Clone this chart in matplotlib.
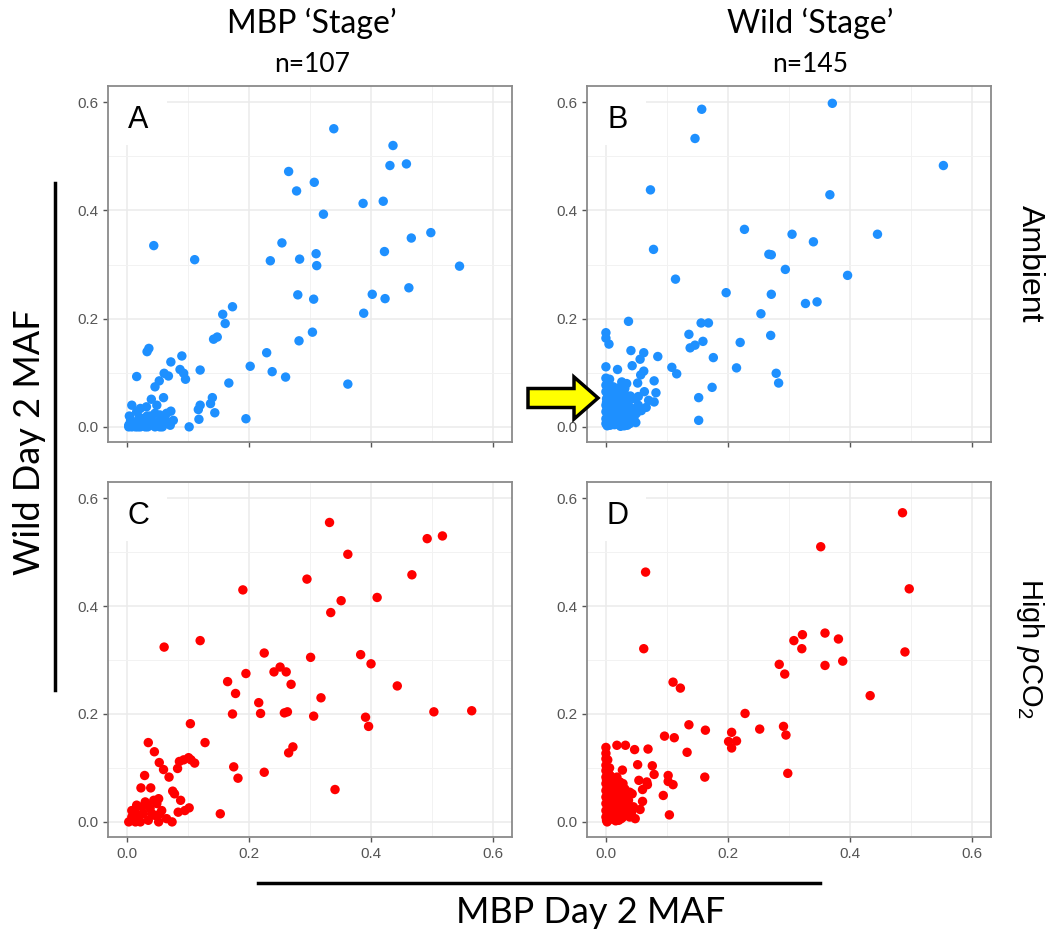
import matplotlib
matplotlib.use("Agg")
import matplotlib.pyplot as plt
from matplotlib.patches import Rectangle, FancyArrow
from matplotlib.lines import Line2D

plt.rcParams['mathtext.fontset'] = 'custom'
plt.rcParams['mathtext.rm'] = 'Liberation Sans'
plt.rcParams['mathtext.it'] = 'Liberation Sans:italic'

# panel A: MBP stage, ambient
a_x = [0.339, 0.436, 0.431, 0.458, 0.265, 0.278, 0.307, 0.387, 0.420, 0.322,
       0.498, 0.466, 0.254, 0.044, 0.111, 0.235, 0.283, 0.310, 0.311, 0.422,
       0.545, 0.280, 0.306, 0.402, 0.423, 0.462, 0.388, 0.173, 0.157, 0.161,
       0.142, 0.148, 0.304, 0.282, 0.229, 0.202, 0.238, 0.260, 0.362, 0.167,
       0.195, 0.120, 0.102, 0.118, 0.144, 0.140, 0.137, 0.120, 0.117, 0.090,
       0.072, 0.087, 0.093, 0.096, 0.061, 0.068, 0.053, 0.046, 0.060, 0.036,
       0.033, 0.016, 0.040, 0.008, 0.022, 0.032, 0.049, 0.072, 0.065, 0.076,
       0.054, 0.033, 0.060, 0.071,
       0.005, 0.008, 0.014, 0.022, 0.030, 0.038, 0.046, 0.054, 0.011, 0.019,
       0.035, 0.027, 0.052, 0.003, 0.044, 0.063,
       0.003, 0.012, 0.018, 0.026, 0.034, 0.042, 0.050, 0.058, 0.066, 0.006,
       0.020, 0.038, 0.046, 0.028, 0.062, 0.016, 0.004]
a_y = [0.551, 0.520, 0.483, 0.486, 0.472, 0.436, 0.452, 0.413, 0.417, 0.393,
       0.359, 0.349, 0.340, 0.335, 0.309, 0.307, 0.310, 0.320, 0.298, 0.324,
       0.297, 0.244, 0.236, 0.245, 0.237, 0.257, 0.210, 0.222, 0.208, 0.191,
       0.162, 0.166, 0.175, 0.159, 0.137, 0.112, 0.102, 0.092, 0.079, 0.081,
       0.015, 0.105, 0.000, 0.014, 0.026, 0.054, 0.043, 0.040, 0.032, 0.131,
       0.120, 0.106, 0.099, 0.088, 0.099, 0.094, 0.085, 0.074, 0.054, 0.145,
       0.139, 0.093, 0.051, 0.040, 0.034, 0.037, 0.040, 0.029, 0.025, 0.012,
       0.022, 0.020, 0.012, 0.003,
       0.006, 0.000, 0.000, 0.000, 0.000, 0.003, 0.000, 0.000, 0.009, 0.006,
       0.009, 0.015, 0.009, 0.003, 0.006, 0.006,
       0.000, 0.003, 0.000, 0.004, 0.000, 0.010, 0.004, 0.000, 0.009, 0.012,
       0.018, 0.020, 0.025, 0.010, 0.018, 0.028, 0.020]

# panel B: wild stage, ambient
b_x = [0.371, 0.157, 0.146, 0.553, 0.073, 0.367, 0.227, 0.305, 0.445, 0.340,
       0.078, 0.267, 0.271, 0.294, 0.396, 0.114, 0.197, 0.271, 0.327, 0.346,
       0.254, 0.037, 0.156, 0.168, 0.000, 0.000, 0.005, 0.136, 0.270, 0.159,
       0.220, 0.146, 0.138, 0.041, 0.062, 0.085, 0.176, 0.056, 0.043, 0.000,
       0.019, 0.108, 0.214, 0.116, 0.279, 0.283, 0.062, 0.057, 0.000, 0.079,
       0.026, 0.034, 0.052, 0.000, 0.174, 0.031, 0.063, 0.082, 0.027, 0.053,
       0.152, 0.070, 0.079, 0.152,
       0.000, 0.001, 0.000, 0.000, 0.000, 0.000, 0.007, 0.009, 0.012, 0.018,
       0.015, 0.023, 0.028, 0.034, 0.039, 0.037, 0.048, 0.050, 0.045, 0.007,
       0.023, 0.034, 0.018, 0.004, 0.009, 0.028, 0.053, 0.020, 0.012, 0.004,
       0.002, 0.005, 0.010, 0.014, 0.017, 0.021, 0.025, 0.030, 0.033, 0.040,
       0.044, 0.049, 0.002, 0.006, 0.011, 0.016, 0.022, 0.027, 0.031, 0.036,
       0.041, 0.046, 0.003, 0.008, 0.013, 0.019, 0.024, 0.029, 0.035, 0.042,
       0.001, 0.004, 0.008, 0.012, 0.016, 0.020, 0.025, 0.030, 0.035, 0.040,
       0.002, 0.006, 0.010, 0.015, 0.021, 0.026, 0.031, 0.037, 0.044, 0.058,
       0.066]
b_y = [0.598, 0.587, 0.533, 0.483, 0.438, 0.429, 0.365, 0.356, 0.356, 0.342,
       0.328, 0.319, 0.318, 0.291, 0.280, 0.273, 0.248, 0.245, 0.228, 0.231,
       0.209, 0.195, 0.192, 0.192, 0.174, 0.164, 0.153, 0.171, 0.169, 0.158,
       0.156, 0.151, 0.146, 0.141, 0.137, 0.130, 0.128, 0.125, 0.113, 0.111,
       0.106, 0.110, 0.109, 0.098, 0.099, 0.081, 0.103, 0.096, 0.090, 0.085,
       0.083, 0.080, 0.081, 0.077, 0.073, 0.071, 0.065, 0.063, 0.059, 0.056,
       0.054, 0.049, 0.046, 0.012,
       0.065, 0.052, 0.040, 0.028, 0.015, 0.006, 0.059, 0.046, 0.034, 0.025,
       0.009, 0.043, 0.034, 0.025, 0.006, 0.040, 0.034, 0.025, 0.015, 0.003,
       0.012, 0.015, 0.052, 0.019, 0.025, 0.006, 0.040, 0.065, 0.074, 0.083,
       0.002, 0.010, 0.018, 0.004, 0.030, 0.012, 0.020, 0.002, 0.036, 0.014,
       0.022, 0.008, 0.035, 0.028, 0.044, 0.038, 0.050, 0.031, 0.047, 0.055,
       0.028, 0.018, 0.058, 0.070, 0.062, 0.005, 0.001, 0.052, 0.010, 0.024,
       0.045, 0.032, 0.021, 0.061, 0.014, 0.027, 0.066, 0.038, 0.003, 0.057,
       0.078, 0.088, 0.048, 0.068, 0.072, 0.016, 0.060, 0.008, 0.052, 0.030,
       0.036]

# panel C: MBP stage, high pCO2
c_x = [0.332, 0.517, 0.492, 0.362, 0.467, 0.295, 0.190, 0.410, 0.351, 0.334,
       0.120, 0.061, 0.225, 0.301, 0.383, 0.400, 0.251, 0.241, 0.261, 0.195,
       0.165, 0.269, 0.443, 0.178, 0.318, 0.216, 0.173, 0.219, 0.258, 0.263,
       0.306, 0.391, 0.396, 0.503, 0.565, 0.104, 0.128, 0.272, 0.265, 0.035,
       0.045, 0.053, 0.060, 0.069, 0.175, 0.182, 0.225, 0.341, 0.153, 0.083,
       0.086, 0.093, 0.101, 0.105, 0.111, 0.029, 0.023, 0.039, 0.075, 0.078,
       0.088, 0.102, 0.095, 0.084, 0.074, 0.065, 0.052, 0.057,
       0.003, 0.008, 0.014, 0.016, 0.022, 0.027, 0.030, 0.035, 0.038, 0.044,
       0.049, 0.046, 0.025, 0.033, 0.041, 0.014, 0.019, 0.008, 0.052, 0.054]
c_y = [0.555, 0.530, 0.525, 0.496, 0.458, 0.450, 0.430, 0.416, 0.410, 0.388,
       0.336, 0.324, 0.313, 0.305, 0.310, 0.293, 0.287, 0.278, 0.278, 0.275,
       0.260, 0.255, 0.252, 0.238, 0.230, 0.221, 0.200, 0.201, 0.202, 0.204,
       0.196, 0.194, 0.177, 0.204, 0.206, 0.182, 0.147, 0.139, 0.128, 0.147,
       0.130, 0.110, 0.097, 0.083, 0.102, 0.081, 0.092, 0.060, 0.015, 0.099,
       0.112, 0.115, 0.119, 0.115, 0.109, 0.086, 0.063, 0.063, 0.057, 0.052,
       0.040, 0.026, 0.021, 0.018, 0.000, 0.006, 0.000, 0.021,
       0.000, 0.009, 0.018, 0.031, 0.000, 0.015, 0.037, 0.003, 0.025, 0.040,
       0.034, 0.012, 0.028, 0.031, 0.015, 0.000, 0.009, 0.021, 0.043, 0.015]

# panel D: wild stage, high pCO2
d_x = [0.486, 0.352, 0.065, 0.497, 0.359, 0.322, 0.308, 0.381, 0.321, 0.062,
       0.490, 0.388, 0.284, 0.359, 0.293, 0.110, 0.122, 0.433, 0.228, 0.136,
       0.163, 0.252, 0.291, 0.295, 0.206, 0.201, 0.214, 0.206, 0.096, 0.112,
       0.133, 0.298, 0.162, 0.102, 0.110, 0.102, 0.094, 0.104, 0.018, 0.032,
       0.047, 0.069, 0.000, 0.000, 0.000, 0.052, 0.076, 0.027, 0.079, 0.054,
       0.067, 0.060, 0.068, 0.043, 0.060, 0.056, 0.048,
       0.000, 0.000, 0.000, 0.000, 0.000, 0.000, 0.000, 0.000, 0.002, 0.007,
       0.009, 0.012, 0.015, 0.018, 0.023, 0.020, 0.026, 0.028, 0.023, 0.034,
       0.037, 0.039, 0.031, 0.018, 0.007, 0.004, 0.012, 0.045, 0.039, 0.028,
       0.001, 0.003, 0.005, 0.008, 0.010, 0.013, 0.016, 0.019, 0.022, 0.025,
       0.029, 0.033, 0.036, 0.040, 0.002, 0.006, 0.011, 0.014, 0.017, 0.021,
       0.024, 0.027, 0.030, 0.035, 0.001, 0.004, 0.009, 0.013, 0.017, 0.021,
       0.026, 0.032, 0.000, 0.003, 0.006, 0.010, 0.014, 0.019, 0.024, 0.042]
d_y = [0.573, 0.510, 0.463, 0.432, 0.350, 0.347, 0.336, 0.339, 0.321, 0.321,
       0.315, 0.298, 0.292, 0.290, 0.274, 0.259, 0.248, 0.234, 0.201, 0.180,
       0.170, 0.172, 0.177, 0.161, 0.166, 0.149, 0.150, 0.137, 0.159, 0.156,
       0.129, 0.090, 0.083, 0.086, 0.069, 0.075, 0.049, 0.013, 0.142, 0.142,
       0.134, 0.135, 0.138, 0.127, 0.117, 0.106, 0.104, 0.096, 0.088, 0.077,
       0.074, 0.060, 0.069, 0.052, 0.038, 0.023, 0.006,
       0.095, 0.083, 0.071, 0.058, 0.046, 0.034, 0.021, 0.009, 0.000, 0.067,
       0.052, 0.037, 0.025, 0.009, 0.074, 0.058, 0.043, 0.028, 0.015, 0.021,
       0.040, 0.009, 0.061, 0.083, 0.086, 0.043, 0.015, 0.028, 0.055, 0.071,
       0.003, 0.014, 0.026, 0.005, 0.032, 0.048, 0.002, 0.040, 0.019, 0.006,
       0.012, 0.030, 0.024, 0.016, 0.062, 0.055, 0.020, 0.065, 0.033, 0.003,
       0.050, 0.008, 0.045, 0.036, 0.078, 0.091, 0.040, 0.058, 0.011, 0.027,
       0.063, 0.052, 0.105, 0.115, 0.100, 0.080, 0.070, 0.048, 0.037, 0.018]

panels = [
    ("A", a_x, a_y, "#1E90FF"),
    ("B", b_x, b_y, "#1E90FF"),
    ("C", c_x, c_y, "#FF0000"),
    ("D", d_x, d_y, "#FF0000"),
]
col_titles = ["MBP \u2018Stage\u2019", "Wild \u2018Stage\u2019"]
col_counts = ["n=107", "n=145"]
row_labels = ["Ambient", "High $\\mathit{p}$CO$_2$"]
row_sizes = [23, 21]
ticks = [0.0, 0.2, 0.4, 0.6]
minor_ticks = [0.1, 0.3, 0.5]

fig = plt.figure(figsize=(10.54, 9.30), dpi=100)
W, H = 1054, 930

# axes boxes in pixels: left, top, right, bottom
boxes = [(108, 86, 512, 442), (587, 86, 991, 442),
         (108, 482, 512, 837), (587, 482, 991, 837)]

for i, (letter, xs, ys, colr) in enumerate(panels):
    l, t, r, b = boxes[i]
    ax = fig.add_axes([l / W, 1 - b / H, (r - l) / W, (b - t) / H])
    ax.set_xlim(-0.031, 0.631)
    ax.set_ylim(-0.028, 0.63)
    ax.set_axisbelow(True)
    ax.set_xticks(ticks)
    ax.set_yticks(ticks)
    ax.set_xticks(minor_ticks, minor=True)
    ax.set_yticks(minor_ticks, minor=True)
    ax.grid(which="major", color="#EBEBEB", linewidth=1.1)
    ax.grid(which="minor", color="#F2F2F2", linewidth=0.7)
    ax.tick_params(which="minor", length=0)
    ax.tick_params(which="major", length=3.5, width=1, color="#555555",
                   labelcolor="#555555", labelsize=11, direction="out")
    ax.set_yticklabels(["0.0", "0.2", "0.4", "0.6"], family="Liberation Sans")
    if i < 2:
        ax.set_xticklabels([])
    else:
        ax.set_xticklabels(["0.0", "0.2", "0.4", "0.6"], family="Liberation Sans")
    for s in ax.spines.values():
        s.set_color("#8A8A8A")
        s.set_linewidth(1.3)
    # white label box pasted over the corner
    ax.add_patch(Rectangle((0, 0.834), 0.147, 0.166, transform=ax.transAxes,
                           facecolor="white", edgecolor="none", zorder=1))
    ax.scatter(xs, ys, s=46, color=colr, edgecolors="none", zorder=2)
    ax.text(0.075, 0.905, letter, transform=ax.transAxes, fontsize=22,
            family="Liberation Sans", ha="center", va="center", zorder=3)

# column titles
for j, cx in enumerate([312, 810]):
    fig.text(cx / W, 1 - 23 / H, col_titles[j], fontsize=23, family="Lato",
             ha="center", va="center")
    fig.text(cx / W, 1 - 64 / H, col_counts[j], fontsize=19, family="Lato",
             ha="center", va="center")

# row labels
for j, cy in enumerate([264, 648]):
    fig.text(1030 / W, 1 - cy / H, row_labels[j], fontsize=row_sizes[j],
             family="Liberation Sans", rotation=-90, ha="center", va="center")

# shared axis labels with bars
fig.text(30 / W, 1 - 442 / H, "Wild Day 2 MAF", fontsize=26, family="Lato",
         rotation=90, ha="center", va="center")
fig.add_artist(Line2D([55 / W, 55 / W], [1 - 183 / H, 1 - 690 / H],
                      color="black", linewidth=2.5))
fig.text(591 / W, 1 - 912 / H, "MBP Day 2 MAF", fontsize=26, family="Lato",
         ha="center", va="center")
fig.add_artist(Line2D([258 / W, 820 / W], [1 - 883 / H, 1 - 883 / H],
                      color="black", linewidth=2.5))

# yellow arrow pointing at the cluster in panel B
arrow = FancyArrow(528 / W, 1 - 398 / H, 70 / W, 0, width=19 / H,
                   head_width=42 / H, head_length=24 / W,
                   length_includes_head=True, transform=fig.transFigure,
                   facecolor="#FFFF00", edgecolor="black", linewidth=2.5)
fig.add_artist(arrow)

fig.savefig("out.png", dpi=100)
